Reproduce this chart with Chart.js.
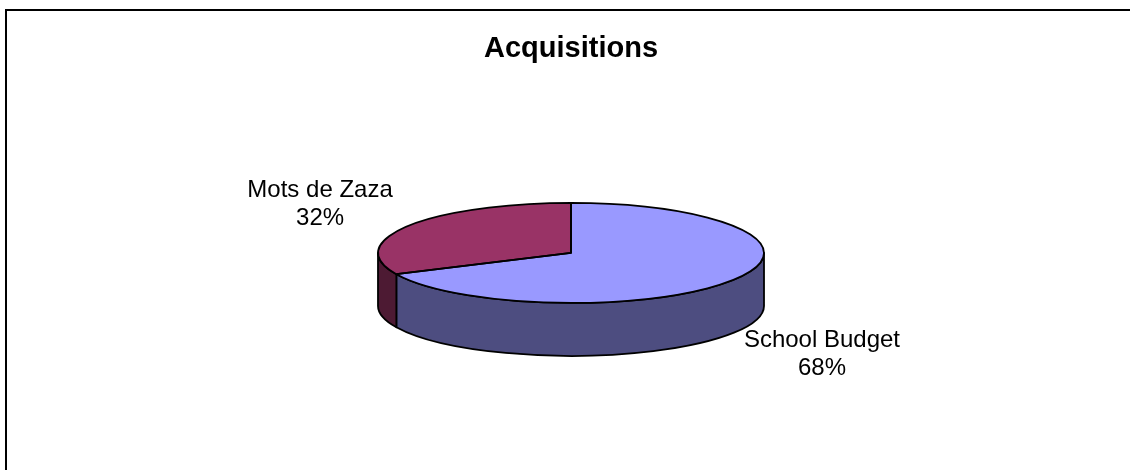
<!DOCTYPE html>
<html>
<head>
<meta charset="utf-8">
<script src="https://cdn.jsdelivr.net/npm/chart.js@4"></script>
<style>
  html, body { margin: 0; padding: 0; background: #fff; overflow: hidden; }
  #wrap { position: relative; width: 1130px; height: 470px; }
  #frame { position: absolute; left: 5px; top: 9px; width: 2000px; height: 1000px;
           border-top: 2px solid #000; border-left: 2px solid #000; }
  canvas { position: absolute; left: 0; top: 0; }
</style>
</head>
<body>
<div id="wrap">
  <div id="frame"></div>
  <canvas id="c" width="1130" height="470"></canvas>
</div>
<script>
// ---- data ----
const chartTitle = 'Acquisitions';
const categories = ['School Budget', 'Mots de Zaza'];
const values = [68, 32];

// ---- styles ----
const topColors  = ['#9999FF', '#993366'];
const sideColors = ['#4D4D80', '#4D1A33'];
const TILT = 50 / 193;     // vertical squash of the pie
const DEPTH = 53;          // wall height in px
const FONT = 'Arial, "Liberation Sans", sans-serif';

const pie3d = {
  id: 'pie3d',
  beforeDatasetsDraw(chart) {
    const ctx = chart.ctx;
    const arcs = chart.getDatasetMeta(0).data;
    const cx = arcs[0].x, cy = arcs[0].y, rx = arcs[0].outerRadius, ry = rx * TILT;
    ctx.save();
    ctx.lineWidth = 1.8;
    ctx.strokeStyle = '#000';
    ctx.lineJoin = 'round';
    arcs.forEach((arc, i) => {
      const s = arc.startAngle, e = arc.endAngle;
      for (let k = -1; k <= 1; k++) {
        const lo = 2 * Math.PI * k, hi = lo + Math.PI;
        const a0 = Math.max(s, lo), a1 = Math.min(e, hi);
        if (a1 <= a0) continue;
        ctx.beginPath();
        ctx.ellipse(cx, cy, rx, ry, 0, a0, a1, false);
        ctx.lineTo(cx + rx * Math.cos(a1), cy + ry * Math.sin(a1) + DEPTH);
        ctx.ellipse(cx, cy + DEPTH, rx, ry, 0, a1, a0, true);
        ctx.closePath();
        ctx.fillStyle = sideColors[i % sideColors.length];
        ctx.fill();
        ctx.stroke();
      }
    });
    ctx.restore();
    // squash the top face drawn by Chart.js
    ctx.save();
    ctx.translate(cx, cy);
    ctx.scale(1, TILT);
    ctx.translate(-cx, -cy);
  },
  afterDatasetsDraw(chart) {
    const ctx = chart.ctx;
    ctx.restore();
    const arcs = chart.getDatasetMeta(0).data;
    const cx = arcs[0].x, cy = arcs[0].y, rx = arcs[0].outerRadius, ry = rx * TILT;
    ctx.save();
    ctx.lineWidth = 1.8;
    ctx.strokeStyle = '#000';
    ctx.lineJoin = 'round';
    arcs.forEach((arc) => {
      ctx.beginPath();
      ctx.moveTo(cx, cy);
      ctx.ellipse(cx, cy, rx, ry, 0, arc.startAngle, arc.endAngle, false);
      ctx.closePath();
      ctx.stroke();
    });
    // labels
    const data = chart.data.datasets[0].data;
    const total = data.reduce((a, b) => a + b, 0);
    ctx.fillStyle = '#000';
    ctx.font = '24px ' + FONT;
    ctx.textAlign = 'center';
    ctx.textBaseline = 'middle';
    arcs.forEach((arc, i) => {
      const mid = (arc.startAngle + arc.endAngle) / 2;
      const c = Math.cos(mid), s = Math.sin(mid);
      const x = cx + c * rx * 1.54;
      let y = cy + s * ry * 1.8 + (s > 0 ? DEPTH : 0);
      const pct = Math.round(data[i] / total * 100) + '%';
      ctx.fillText(chart.data.labels[i], x, y - 14);
      ctx.fillText(pct, x, y + 14);
    });
    ctx.restore();
  }
};

new Chart(document.getElementById('c'), {
  type: 'pie',
  data: {
    labels: categories,
    datasets: [{
      data: values,
      backgroundColor: topColors,
      borderWidth: 0,
      clip: false
    }]
  },
  options: {
    responsive: false,
    animation: false,
    events: [],
    radius: 193,
    layout: { padding: { left: 12, right: 0, top: 0, bottom: 31 } },
    plugins: {
      legend: { display: false },
      tooltip: { enabled: false },
      title: {
        display: true,
        text: chartTitle,
        color: '#000',
        font: { family: FONT, size: 29, weight: 'bold', lineHeight: 1.2 },
        padding: { top: 32, bottom: 0 }
      }
    }
  },
  plugins: [pie3d]
});
</script>
</body>
</html>
